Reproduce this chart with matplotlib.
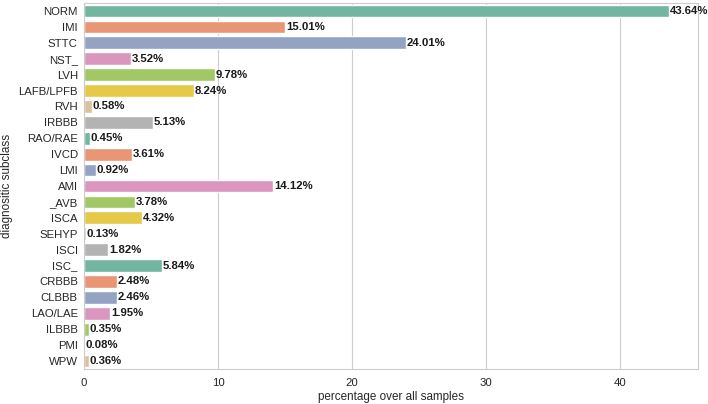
import matplotlib
matplotlib.use("Agg")
import matplotlib.pyplot as plt
import seaborn as sns

subclasses = ["NORM", "IMI", "STTC", "NST_", "LVH", "LAFB/LPFB", "RVH", "IRBBB",
              "RAO/RAE", "IVCD", "LMI", "AMI", "_AVB", "ISCA", "SEHYP", "ISCI",
              "ISC_", "CRBBB", "CLBBB", "LAO/LAE", "ILBBB", "PMI", "WPW"]
percent = [43.64, 15.01, 24.01, 3.52, 9.78, 8.24, 0.58, 5.13,
           0.45, 3.61, 0.92, 14.12, 3.78, 4.32, 0.13, 1.82,
           5.84, 2.48, 2.46, 1.95, 0.35, 0.08, 0.36]

sns.set_style("whitegrid")
plt.rcParams['font.family'] = ['Liberation Sans', 'DejaVu Sans']

pal = sns.color_palette("Set2", 8)
colors = [sns.desaturate(pal[i % 8], 0.75) for i in range(len(subclasses))]

fig = plt.figure(figsize=(7.08, 4.04), dpi=100)
ax = fig.add_axes([84/708, 1 - 369/404, (698-84)/708, (369-3)/404])
ypos = list(range(len(subclasses)))
ax.barh(ypos, percent, height=0.8, color=colors)
ax.set_ylim(len(subclasses) - 0.5, -0.5)
ax.set_yticks(ypos)
ax.set_yticklabels(subclasses, fontsize=8.2)
ax.grid(axis='y', visible=False)
ax.tick_params(axis='x', labelsize=8.2, pad=3)
ax.tick_params(axis='y', pad=1)
ax.set_xlabel("percentage over all samples", fontsize=8.4, labelpad=2)
ax.set_ylabel("diagnositic subclass", fontsize=8.4)

for y, v in zip(ypos, percent):
    ax.text(v + 0.05, y, f"{v:.2f}%", va="center", ha="left",
            fontsize=8.2, fontweight="bold", color="#1a1a1a")

fig.savefig("out.png", dpi=100)
